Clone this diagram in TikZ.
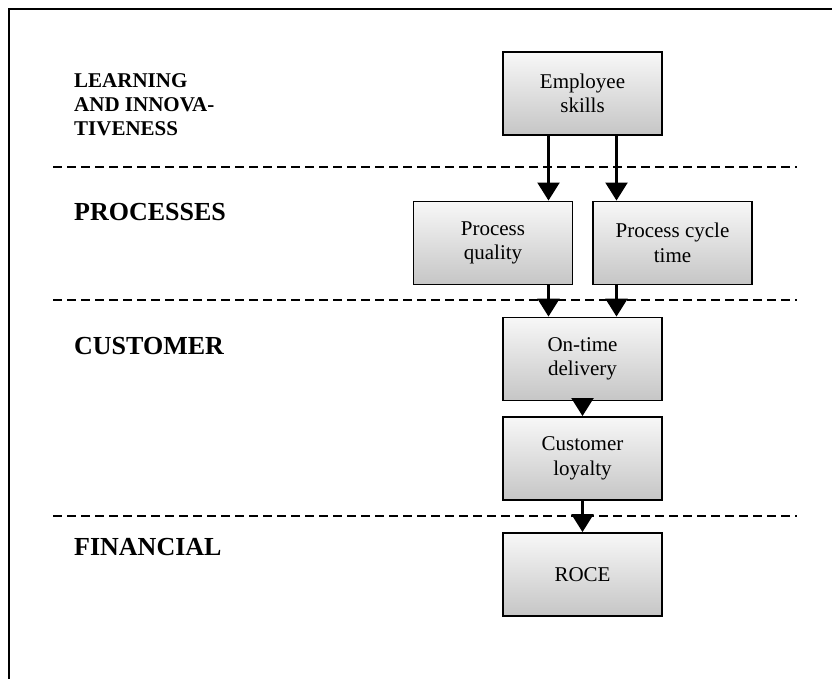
\documentclass[tikz,border=0pt]{standalone}
\usepackage{fontspec}
\setmainfont{Liberation Serif}
\usetikzlibrary{arrows.meta}
\begin{document}
\begin{tikzpicture}[x=1pt,y=-1pt,
  box/.style={draw=black, line width=1.9pt, top color=gray!6, bottom color=gray!45,
    minimum width=159pt, minimum height=83pt, align=center, inner sep=0pt,
    font=\fontsize{21}{24.5}\selectfont},
  layer/.style={anchor=base west, inner sep=0pt, font=\bfseries\fontsize{26}{30}\selectfont},
  sep/.style={line width=1.9pt, dash pattern=on 9pt off 5pt},
  arr/.style={line width=2.2pt, -{Triangle[width=22pt,length=18pt]}}]

\useasboundingbox (0,0) rectangle (832,679);
\clip (0,0) rectangle (832,679);

% outer frame (runs past the right and bottom edges)
\draw[line width=2pt] (8.5,9) rectangle (900,760);

% layer separators
\draw[sep] (53,167) -- (797,167);
\draw[sep] (53,300) -- (797,300);
\draw[sep] (53,516) -- (797,516);

% layer titles (base anchor of a multi-line node sits on its last line)
\node[layer, align=left, font=\bfseries\fontsize{21}{24}\selectfont] (lrn) at (74,136)
  {LEARNING\\AND INNOVA-\\TIVENESS};
\node[layer] (proc) at (74,220) {PROCESSES};
\node[layer] (cust) at (74,354) {CUSTOMER};
\node[layer] (fin)  at (74,555) {FINANCIAL};

% measures
\node[box] (emp)  at (582.5,93.5)  {Employee\\skills};
\node[box] (pq)   at (493,243)     {Process\\quality};
\node[box] (pct)  at (672.5,243)   {Process cycle\\time};
\node[box] (otd)  at (582.5,359)   {On-time\\delivery};
\node[box] (loy)  at (582.5,458.5) {Customer\\loyalty};
\node[box] (roce) at (582.5,574.5) {ROCE};

% arrow columns
\coordinate (colL) at ([xshift=-34pt]emp.south);
\coordinate (colR) at ([xshift=34pt]emp.south);

% cause-and-effect links
\draw[arr] (colL) -- (colL |- pq.north);
\draw[arr] (colR) -- (colR |- pct.north);
\draw[arr] (colL |- pq.south) -- (colL |- otd.north);
\draw[arr] (colR |- pct.south) -- (colR |- otd.north);
\draw[arr] (otd.south) -- (loy.north);
\draw[arr] (loy.south) -- (roce.north);
\end{tikzpicture}
\end{document}
